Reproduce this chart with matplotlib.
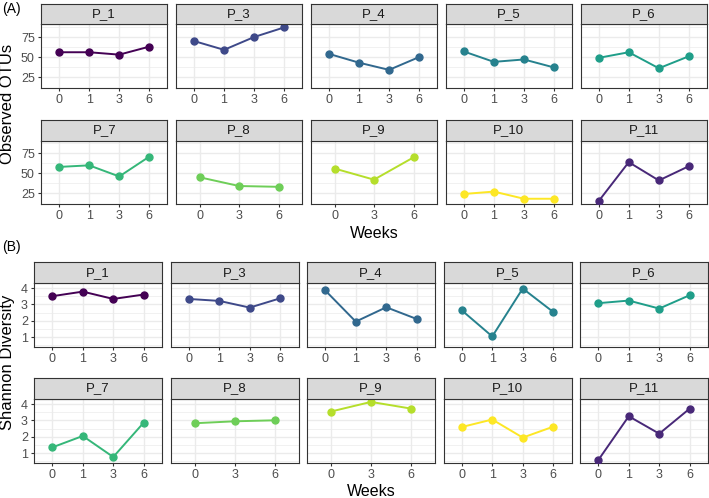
#plot observed OTUs and Shannon diversity per patient over weeks

import matplotlib.pyplot as plt
import numpy as np

plt.rcParams['font.family'] = ['Liberation Sans', 'DejaVu Sans']

########################################################################
### data ###
########################################################################

patients = ['P_1', 'P_3', 'P_4', 'P_5', 'P_6',
            'P_7', 'P_8', 'P_9', 'P_10', 'P_11']

#order of the factor levels used for the viridis colours
colour_order = ['P_1', 'P_11', 'P_3', 'P_4', 'P_5',
                'P_6', 'P_7', 'P_8', 'P_9', 'P_10']

weeks = [[0, 1, 3, 6], [0, 1, 3, 6], [0, 1, 3, 6], [0, 1, 3, 6], [0, 1, 3, 6],
         [0, 1, 3, 6], [0, 3, 6], [0, 3, 6], [0, 1, 3, 6], [0, 1, 3, 6]]

otus = [[56, 56, 53, 63], [70, 59, 75, 87], [54, 43, 34, 50],
        [57, 44, 47, 37], [49, 56, 36, 51], [58, 60, 46, 71],
        [45, 34, 33], [56, 42, 70], [24, 27, 18, 18], [15, 64, 41, 59]]

shannon = [[3.51, 3.79, 3.34, 3.61], [3.34, 3.22, 2.81, 3.38],
           [3.86, 1.95, 2.83, 2.11], [2.64, 1.04, 3.98, 2.54],
           [3.08, 3.24, 2.75, 3.57], [1.35, 2.05, 0.76, 2.87],
           [2.83, 2.95, 3.01], [3.55, 4.14, 3.73],
           [2.60, 3.06, 1.95, 2.62], [0.57, 3.26, 2.19, 3.73]]

########################################################################
### figure ###
########################################################################

W, H = 709, 498
fig = plt.figure(figsize=(W / 100, H / 100), dpi=100)

cmap = plt.get_cmap('viridis')
cols = {p: cmap(i / 9) for i, p in enumerate(colour_order)}

def px_axes(x0, y0, x1, y1):
    #pixel box with origin top left
    return fig.add_axes([x0 / W, 1 - y1 / H, (x1 - x0) / W, (y1 - y0) / H])

def draw_block(values, left, right, rows, yticks, yminor, ylabel, tag, tag_y, xlab_y):
    allv = np.concatenate([np.array(v, float) for v in values])
    lo, hi = allv.min(), allv.max()
    pad = 0.05 * (hi - lo)
    gap = 8.5
    width = (right - left - 4 * gap) / 5
    for i, p in enumerate(patients):
        r, c = divmod(i, 5)
        s_top, s_bot, p_bot = rows[r]
        x0 = left + c * (width + gap)
        x1 = x0 + width

        ax = px_axes(x0, s_bot, x1, p_bot)
        xs = np.arange(len(weeks[i]))
        ax.plot(xs, values[i], color=cols[p], lw=1.4, zorder=3)
        ax.plot(xs, values[i], 'o', color=cols[p], ms=5, zorder=4)
        ax.set_xlim(-0.6, len(xs) - 0.4)
        ax.set_ylim(lo - pad, hi + pad)
        ax.set_xticks(xs)
        ax.set_xticklabels([str(w) for w in weeks[i]])
        ax.set_yticks(yticks)
        ax.set_yticks(yminor, minor=True)
        ax.grid(which='major', color='#EBEBEB', lw=1.0, zorder=0)
        ax.grid(which='minor', axis='y', color='#EBEBEB', lw=0.5, zorder=0)
        ax.set_axisbelow(True)
        ax.tick_params(which='major', length=2.4, width=0.8, color='#333333',
                       labelsize=9, labelcolor='#4D4D4D', pad=2)
        ax.tick_params(which='minor', length=0)
        if c != 0:
            ax.tick_params(axis='y', which='major', length=0, labelleft=False)
        for sp in ax.spines.values():
            sp.set_color('#333333')
            sp.set_linewidth(0.8)

        st = px_axes(x0, s_top, x1, s_bot)
        st.set_facecolor('#D9D9D9')
        st.set_xticks([])
        st.set_yticks([])
        for sp in st.spines.values():
            sp.set_color('#333333')
            sp.set_linewidth(0.8)
        st.text(0.5, 0.5, p, ha='center', va='center', fontsize=9.5,
                color='#1A1A1A', transform=st.transAxes)

    fig.text(2 / W, 1 - tag_y / H, tag, ha='left', va='center', fontsize=10)
    fig.text((left + right) / 2 / W, 1 - xlab_y / H, 'Weeks',
             ha='center', va='center', fontsize=11.5)
    mid = (rows[0][0] + rows[1][2]) / 2
    fig.text(7.5 / W, 1 - mid / H, ylabel, rotation=90,
             ha='center', va='center', fontsize=12)

draw_block(otus, 41, 707,
           [(4.5, 24.5, 88), (120, 141, 204)],
           [25, 50, 75], [37.5, 62.5, 87.5],
           'Observed OTUs', '(A)', 9, 233)

draw_block(shannon, 34, 708,
           [(262.5, 283, 347), (378, 399, 463)],
           [1, 2, 3, 4], [0.5, 1.5, 2.5, 3.5],
           'Shannon Diversity', '(B)', 247, 491)

fig.savefig('out.png', dpi=100)
